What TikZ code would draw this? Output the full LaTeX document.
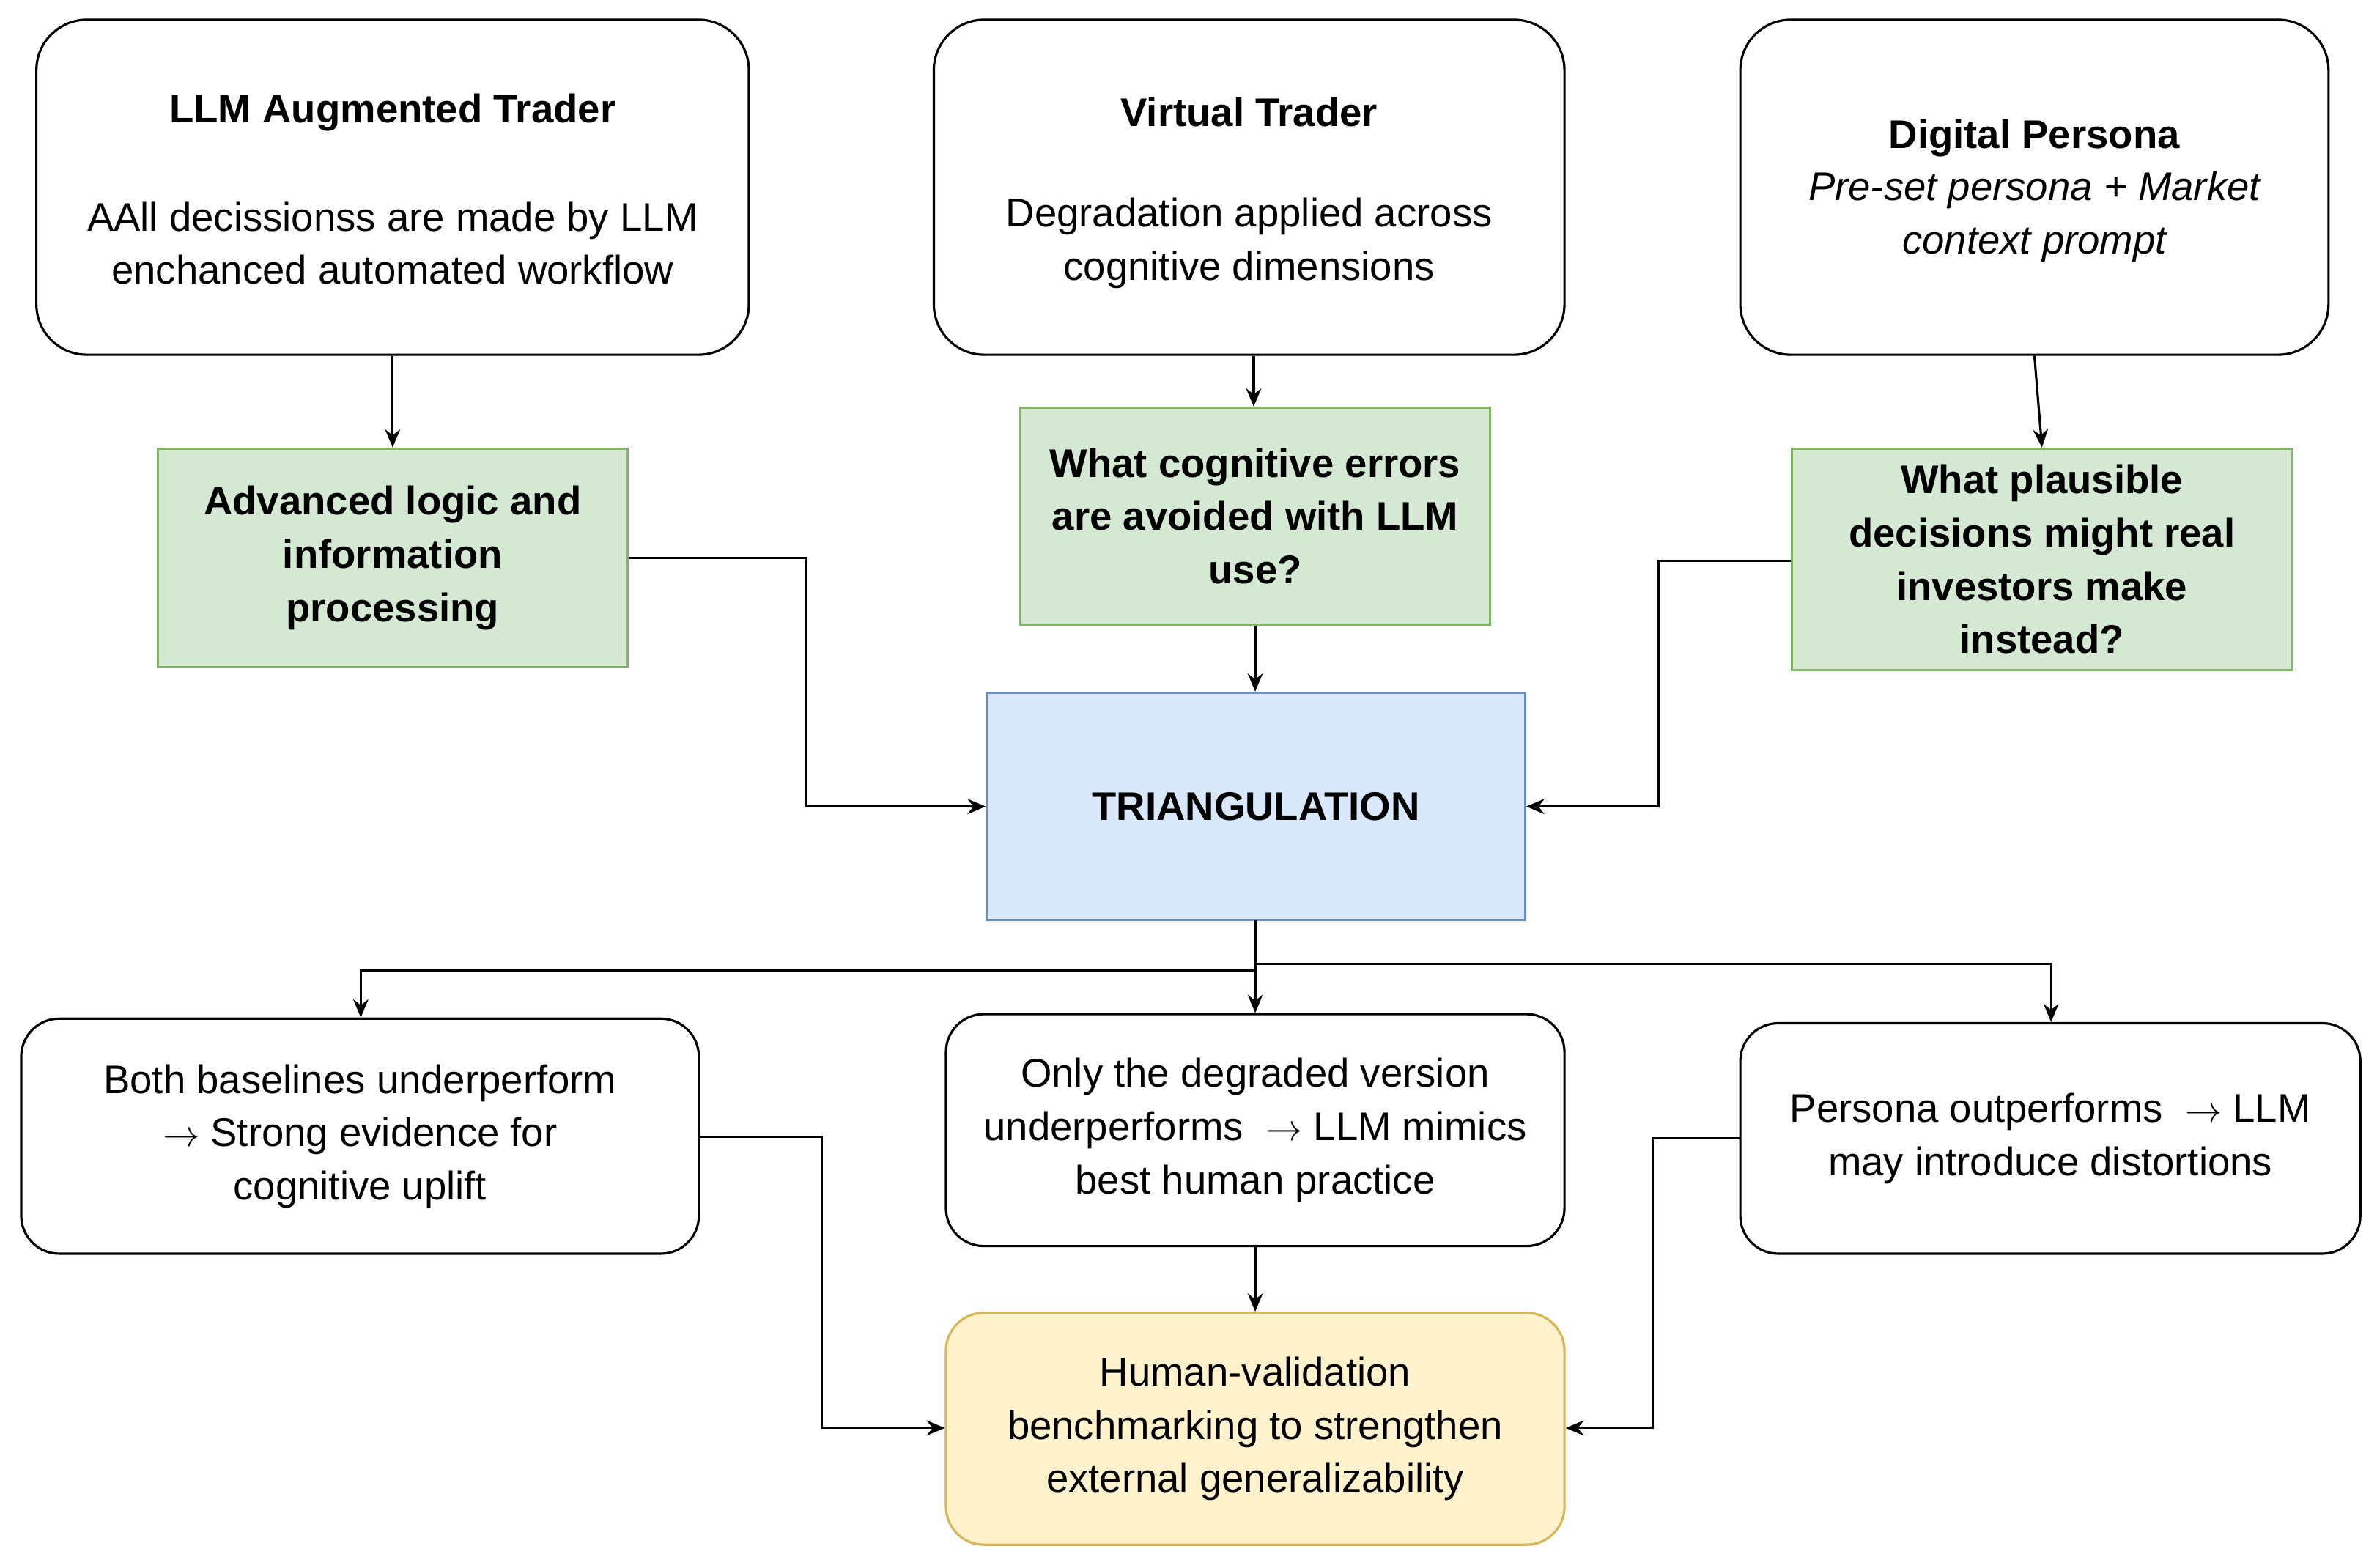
\documentclass[tikz,border=0pt]{standalone}
\usepackage{fontspec}
\setmainfont{Liberation Sans}
\usetikzlibrary{arrows.meta}
\begin{document}
\begin{tikzpicture}[x=0.3mm,y=-0.3mm,
  every node/.style={align=center,font=\fontsize{22.5}{30}\selectfont,inner sep=0pt},
  top/.style={draw,line width=1.3pt,rounded corners=10mm},
  bot/.style={draw,line width=1.3pt,rounded corners=7.5mm},
  grn/.style={draw=green!50!black!60!white,draw=gstroke,fill=gfill,line width=1.3pt,font=\fontsize{22.5}{30}\selectfont\bfseries},
  arr/.style={-{Stealth[length=3.6mm,width=3mm]},line width=1.3pt}]
\definecolor{gfill}{HTML}{D5E8D4}\definecolor{gstroke}{HTML}{82B366}
\definecolor{bfill}{HTML}{DAE8FC}\definecolor{bstroke}{HTML}{6C8EBF}
\definecolor{yfill}{HTML}{FFF2CC}\definecolor{ystroke}{HTML}{D6B656}
\useasboundingbox (0,0) rectangle (1568,1034);
\node[top,minimum width=141mm,minimum height=66.3mm] (t1) at (259,123.5) {};
\node at (259,74) {\textbf{LLM Augmented Trader}};
\node at (259,160.5) {AAll decissionss are made by LLM\\enchanced automated workflow};
\node[top,minimum width=124.8mm,minimum height=66.3mm] (t2) at (824,123.5) {};
\node at (824,74) {\textbf{Virtual Trader}};
\node at (824,160.5) {Degradation applied across\\cognitive dimensions};
\node[top,minimum width=116.4mm,minimum height=66.3mm] (t3) at (1342,123.5) {};
\node at (1342,91) {\textbf{Digital Persona}};
\node at (1342,143) {\itshape Pre-set persona + Market\\\itshape context prompt};
\node[grn,minimum width=93mm,minimum height=43.2mm] (g1) at (259,368) {Advanced logic and\\information\\processing};
\node[grn,minimum width=93mm,minimum height=42.9mm] (g2) at (828,340.5) {What cognitive errors\\are avoided with LLM\\use?};
\node[grn,minimum width=99mm,minimum height=43.8mm] (g3) at (1347,369) {What plausible\\decisions might real\\investors make\\instead?};
\node[draw=bstroke,fill=bfill,line width=1.3pt,minimum width=106.5mm,minimum height=45mm,font=\fontsize{22.5}{30}\selectfont\bfseries] (tri) at (828.5,532) {TRIANGULATION};
\node[bot,minimum width=134.1mm,minimum height=46.5mm] (b1) at (237.5,749.5) {Both baselines underperform\\$\rightarrow$ Strong evidence for\\cognitive uplift};
\node[bot,minimum width=122.4mm,minimum height=45.9mm] (b2) at (828,745.5) {Only the degraded version\\underperforms \ $\rightarrow$ LLM mimics\\best human practice};
\node[bot,minimum width=122.7mm,minimum height=45.6mm] (b3) at (1352.5,751) {Persona outperforms \ $\rightarrow$ LLM\\may introduce distortions};
\node[draw=ystroke,fill=yfill,line width=1.3pt,rounded corners=7.5mm,minimum width=122.4mm,minimum height=45.9mm] (y) at (828,942.5) {Human-validation\\benchmarking to strengthen\\external generalizability};
\coordinate (c1) at (532,368); \coordinate (c2) at (532,532);
\coordinate (c3) at (1094,370); \coordinate (c4) at (1094,532);
\coordinate (s) at (828,607);
\coordinate (l1) at (828,640); \coordinate (l2) at (238,640);
\coordinate (r1) at (828,636); \coordinate (r2) at (1353,636);
\coordinate (d1) at (542,750); \coordinate (d2) at (542,942);
\coordinate (e1) at (1090,751); \coordinate (e2) at (1090,942);
\draw[arr] (t1.south) -- (g1.north);
\draw[arr] (t2.south -| 827,0) -- (g2.north -| 827,0);
\draw[arr] (t3.south) -- (g3.north);
\draw[arr] (g2.south) -- (tri.north -| g2.south);
\draw[arr] (g1.east |- c1) -- (c1) -- (c2) -- (tri.west |- c2);
\draw[arr] (g3.west |- c3) -- (c3) -- (c4) -- (tri.east |- c4);
\draw[arr] (s) -- (b2.north -| s);
\draw[arr] (l1) -- (l2) -- (b1.north -| l2);
\draw[arr] (r1) -- (r2) -- (b3.north -| r2);
\draw[arr] (b1.east |- d1) -- (d1) -- (d2) -- (y.west |- d2);
\draw[arr] (b2.south) -- (y.north);
\draw[arr] (b3.west |- e1) -- (e1) -- (e2) -- (y.east |- e2);
\end{tikzpicture}
\end{document}
